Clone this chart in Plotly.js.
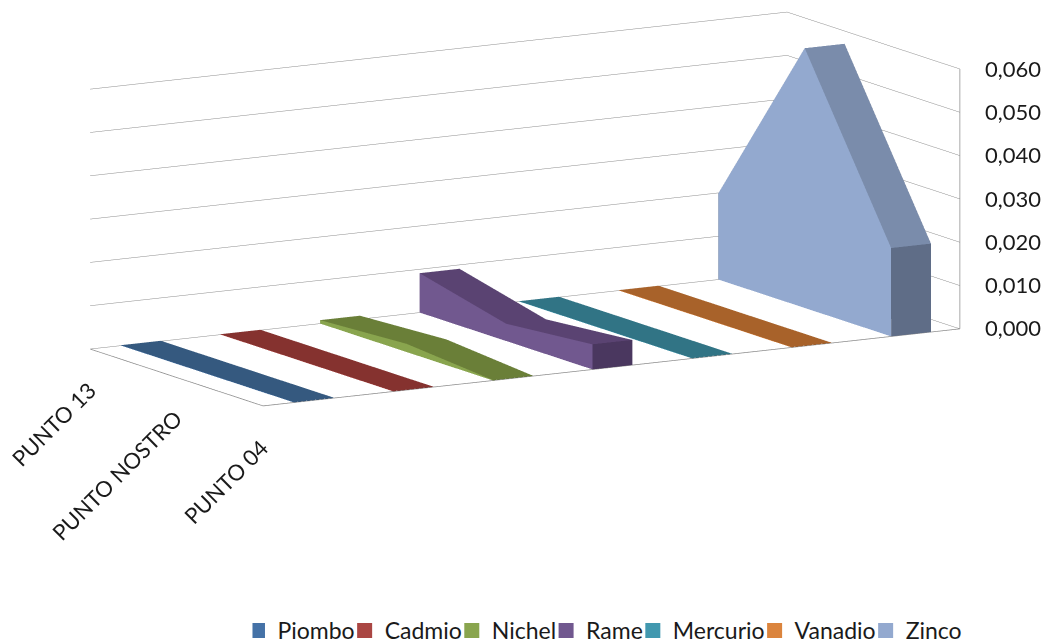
<!DOCTYPE html>
<html><head><meta charset="utf-8">
<script src="https://cdn.plot.ly/plotly-3.0.1.min.js"></script>
<style>html,body{margin:0;padding:0;background:#fff;height:642px;overflow:hidden}#c{width:1047px;height:662px}</style></head>
<body><div id="c"></div>
<script>
const categories = ["PUNTO 13","PUNTO NOSTRO","PUNTO 04"];
const seriesNames = ["Piombo","Cadmio","Nichel","Rame","Mercurio","Vanadio","Zinco"];
const piombo   = [0.0001,0.0001,0.0001];
const cadmio   = [0.0001,0.0001,0.0001];
const nichel   = [0.0008,0.0019,0.0001];
const rame     = [0.0091,0.0040,0.0058];
const mercurio = [0.0001,0.0001,0.0001];
const vanadio  = [0.0001,0.0001,0.0001];
const zinco    = [0.0199,0.0600,0.0204];
const seriesValues = [piombo,cadmio,nichel,rame,mercurio,vanadio,zinco];
const legendColors = ["#4572a7","#aa4643","#89a54e","#71588f","#4198af","#db843d","#93a9cf"];
const sideColors   = ["#4572a7","#aa4643","#89a54e","#71588f","#4198af","#db843d","#93a9cf"];
const topColors    = ["#35597f","#85322f","#6a7f38","#5a4372","#317485","#a8622a","#7a8cab"];
const frontColors  = ["#2d4a6b","#6f2a28","#56682e","#4a375f","#296170","#8c5223","#5f6d87"];
const zTicks = [0,0.01,0.02,0.03,0.04,0.05,0.06];
const barStart = 0.31, barEnd = 0.71;

const depth = categories.map((c,i)=>categories.length-1-i);
const nX = seriesNames.length, nY = categories.length-1, zMax = zTicks[zTicks.length-1];
const traces = [];
seriesNames.forEach((name,s)=>{
  const vals = seriesValues[s];
  const x=[],y=[],z=[],I=[],J=[],K=[],fc=[];
  const x0=s+barStart,x1=s+barEnd;
  vals.forEach((v,c)=>{
    x.push(x0,x0,x1,x1); y.push(depth[c],depth[c],depth[c],depth[c]); z.push(0,v,0,v);
  });
  const tri=(a,b,c,col)=>{I.push(a);J.push(b);K.push(c);fc.push(col);};
  const quad=(a,b,c,d,col)=>{tri(a,b,c,col);tri(a,c,d,col);};
  for(let c=0;c<vals.length-1;c++){
    const p=c*4,q=(c+1)*4;
    quad(p,p+1,q+1,q,sideColors[s]);
    quad(p+1,p+3,q+3,q+1,topColors[s]);
    quad(p+2,p+3,q+3,q+2,frontColors[s]);
  }
  const l=(vals.length-1)*4;
  quad(l,l+1,l+3,l+2,frontColors[s]);
  quad(0,1,3,2,frontColors[s]);
  traces.push({type:'mesh3d',x,y,z,i:I,j:J,k:K,facecolor:fc,flatshading:true,showlegend:false,hoverinfo:'skip',
    lighting:{ambient:1,diffuse:0,specular:0,roughness:1,fresnel:0},scene:'scene'});
  traces.push({type:'scatter',x:[null],y:[null],mode:'markers',name,showlegend:true,
    marker:{symbol:'square',size:15,color:legendColors[s]},xaxis:'x',yaxis:'y'});
});
traces.push({type:'scatter3d',mode:'lines',showlegend:false,hoverinfo:'skip',scene:'scene',
  x:[0,0,nX,nX],y:[nY,0,0,0],z:[0,0,0,zMax],line:{color:'#8c8c8c',width:1.5}});
const font={family:'Lato, Carlito, sans-serif',size:22,color:'#1a1a1a'};
const annotations=[];
categories.forEach((c,i)=>annotations.push({x:0,y:depth[i],z:0,text:c,showarrow:false,textangle:-45,font,xanchor:'right',yanchor:'top',xshift:13,yshift:-26}));
zTicks.forEach(v=>annotations.push({x:nX,y:0,z:v,text:v.toFixed(3).replace('.',','),showarrow:false,font,xanchor:'left',yanchor:'middle',xshift:23}));
const th=30.1*Math.PI/180, ph=11*Math.PI/180, R=2.2;
const layout={width:1047,height:662,margin:{l:0,r:0,t:0,b:0},paper_bgcolor:'#fff',showlegend:true,separators:',.',
 font,
 legend:{orientation:'h',x:0.5826,xanchor:'center',y:0.0151,yanchor:'bottom',font:{...font,size:23},indentation:-15,itemwidth:30,tracegroupgap:0},
 xaxis:{visible:false,domain:[0,0.01]},yaxis:{visible:false,domain:[0,0.01]},
 scene:{domain:{x:[0.003,1],y:[0.37306,0.99773]},
  aspectmode:'manual',aspectratio:{x:3.891,y:1.665,z:1.279},
  camera:{projection:{type:'orthographic'},center:{x:0,y:0,z:0},up:{x:0,y:0,z:1},
    eye:{x:-Math.sin(th)*Math.cos(ph)*R,y:-Math.cos(th)*Math.cos(ph)*R,z:Math.sin(ph)*R}},
  xaxis:{range:[0,nX],showgrid:false,showticklabels:false,ticks:'',title:{text:''},showbackground:false,showline:false,zeroline:false,showspikes:false},
  yaxis:{range:[0,nY],showgrid:false,showticklabels:false,ticks:'',title:{text:''},showbackground:false,showline:false,zeroline:false,showspikes:false},
  zaxis:{range:[0,zMax],tickvals:zTicks,showticklabels:false,showgrid:true,gridcolor:'#8c8c8c',gridwidth:1,title:{text:''},showbackground:false,showline:false,zeroline:false,ticks:'',showspikes:false},
  annotations}
};
Plotly.newPlot('c',traces,layout,{displayModeBar:false});
</script></body></html>
